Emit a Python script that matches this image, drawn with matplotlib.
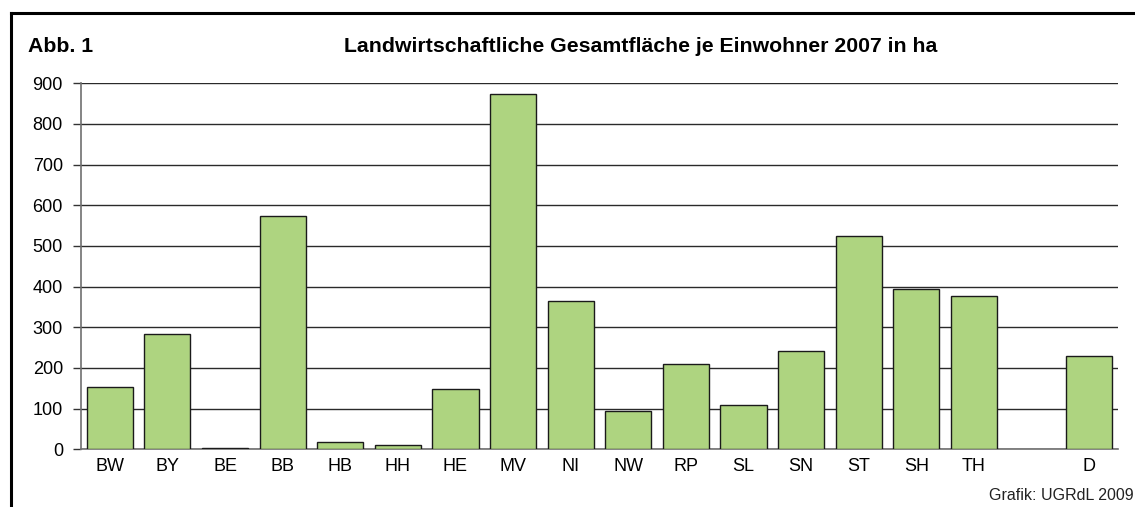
import matplotlib
matplotlib.use("Agg")
import matplotlib.pyplot as plt
from matplotlib.lines import Line2D
import numpy as np

plt.rcParams['font.family'] = ['Liberation Sans', 'DejaVu Sans']

categories = ["BW", "BY", "BE", "BB", "HB", "HH", "HE", "MV", "NI", "NW",
              "RP", "SL", "SN", "ST", "SH", "TH", "D"]
values = [154, 283, 2, 574, 17, 11, 148, 874, 364, 95,
          209, 109, 241, 525, 395, 378, 230]
yticks = [0, 100, 200, 300, 400, 500, 600, 700, 800, 900]
title_left = "Abb. 1"
title = "Landwirtschaftliche Gesamtfläche je Einwohner 2007 in ha"
source = "Grafik: UGRdL 2009"

# slot positions: one empty slot before the last category (D)
x = np.arange(len(categories), dtype=float)
x[-1] += 1

fig = plt.figure(figsize=(11.35, 5.07), dpi=100)
ax = fig.add_axes([81/1135, 1 - 449.3/507, (1118-81)/1135, (449.3-83.3)/507])

ax.bar(x, values, width=0.8, color='#AED480', edgecolor='#1a1a1a', linewidth=1.0, zorder=3)

ax.set_xlim(-0.5, len(categories) + 0.5)
ax.set_ylim(0, 900)
ax.set_yticks(yticks)
ax.set_yticklabels([str(v) for v in yticks], fontsize=13)
ax.set_xticks(x)
ax.set_xticklabels(categories, fontsize=13)

ax.yaxis.grid(True, color='#2a2a2a', linewidth=1.0, zorder=0)
ax.set_axisbelow(True)
for s in ['top', 'right']:
    ax.spines[s].set_visible(False)
ax.spines['left'].set_color('#707070')
ax.spines['bottom'].set_color('#707070')
ax.spines['left'].set_linewidth(1.2)
ax.spines['bottom'].set_linewidth(1.2)
ax.tick_params(axis='y', direction='out', length=6, width=1, color='#333333', pad=7)
ax.tick_params(axis='x', length=0, pad=6.5)

# outer frame (left and top visible)
fig.add_artist(Line2D([11/1135, 11/1135], [0, 1 - 13/507], transform=fig.transFigure, color='black', linewidth=2.2))
fig.add_artist(Line2D([11/1135, 1], [1 - 13/507, 1 - 13/507], transform=fig.transFigure, color='black', linewidth=2.2))

fig.text(28/1135, 1 - 51.7/507, title_left, fontsize=15.3, fontweight='bold', ha='left', va='baseline')
fig.text(641/1135, 1 - 51.7/507, title, fontsize=15.3, fontweight='bold', ha='center', va='baseline')
fig.text(1134/1135, 1 - 500/507, source, fontsize=11.5, ha='right', va='baseline', color='#222222')

fig.savefig("out.png", dpi=100)
